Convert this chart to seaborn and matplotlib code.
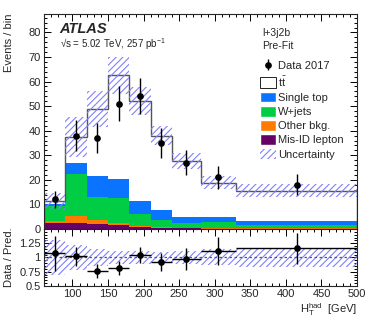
import numpy as np
import pandas as pd
import seaborn as sns
import matplotlib
matplotlib.use('Agg')
from matplotlib import pyplot as plt
from matplotlib.patches import Patch
from matplotlib.ticker import MultipleLocator, FixedLocator

# bin edges in H_T^had [GeV]
bin_edges = [60, 90, 120, 150, 180, 210, 240, 280, 330, 500]

# stacked predictions per bin
ttbar = [1.2, 10.3, 27.5, 42.3, 40.5, 30.2, 22.7, 14.1, 12.2]
single_top = [0.7, 4.7, 8.2, 7.5, 5.3, 4.0, 2.4, 1.9, 1.7]
wjets = [5.9, 16.9, 9.7, 10.1, 5.0, 3.1, 2.25, 2.65, 1.4]
other_bkg = [0.9, 3.0, 1.5, 1.0, 0.4, 0.3, 0.15, 0.1, 0.1]
misid = [2.5, 2.4, 2.0, 1.6, 0.8, 0.4, 0.2, 0.15, 0.1]

# relative uncertainty on the prediction
rel_unc = [0.31, 0.22, 0.15, 0.12, 0.11, 0.10, 0.12, 0.14, 0.17]

# data 2017
data = [12, 38, 37, 51, 54, 35, 27, 21, 18]

processes = ['ttbar', 'Single top', 'W+jets', 'Other bkg.', 'Mis-ID lepton']
colors = ['white', '#0a73ff', '#00cc44', '#ff7a00', '#660066']
hatch_col = '#8080ff'
hatch = '/////'

sns.set_style('ticks')
plt.rcParams['font.family'] = ['Liberation Sans', 'DejaVu Sans']
plt.rcParams['mathtext.fontset'] = 'custom'
plt.rcParams['mathtext.rm'] = 'Liberation Sans'
plt.rcParams['mathtext.it'] = 'Liberation Sans:italic'
plt.rcParams['mathtext.bf'] = 'Liberation Sans:bold'
plt.rcParams['hatch.linewidth'] = 0.8
plt.rcParams['hatch.color'] = hatch_col

edges = np.array(bin_edges)
centers = 0.5 * (edges[1:] + edges[:-1])
halfw = 0.5 * (edges[1:] - edges[:-1])

comps = [ttbar, single_top, wjets, other_bkg, misid]
total = np.sum(np.array(comps), axis=0)
unc = total * np.array(rel_unc)
data = np.array(data)

rows = []
for name, vals in zip(processes, comps):
    for c, v in zip(centers, vals):
        rows.append({'x': float(c), 'w': float(v), 'process': name})
df = pd.DataFrame(rows)

fig = plt.figure(figsize=(3.74, 3.18), dpi=100)
ax = fig.add_axes([0.1176, 0.280, 0.837, 0.676])
rax = fig.add_axes([0.1176, 0.1006, 0.837, 0.1794], sharex=ax)

sns.histplot(data=df, x='x', weights='w', hue='process', hue_order=processes,
             bins=bin_edges, multiple='stack', element='step', palette=colors,
             alpha=1, linewidth=0, legend=False, ax=ax)
ax.stairs(total, edges, color='#555555', lw=1.0)
ax.stairs(total + unc, edges, baseline=total - unc, fill=True, facecolor='none',
          edgecolor=hatch_col, hatch=hatch, lw=0)
dat = ax.errorbar(centers, data, yerr=np.sqrt(data), fmt='o', color='black',
                  ms=3.8, elinewidth=1.0, capsize=0)

# ratio panel
rax.stairs(1 + np.array(rel_unc), edges, baseline=1 - np.array(rel_unc), fill=True,
           facecolor='none', edgecolor=hatch_col, hatch=hatch, lw=0)
rax.axhline(1, color='#555577', ls=(0, (2, 2)), lw=0.9)
rax.errorbar(centers, data / total, yerr=np.sqrt(data) / total, xerr=halfw,
             fmt='o', color='black', ms=3.8, elinewidth=1.0, capsize=0)

ax.set_xlim(60, 500)
ax.set_ylim(0, 87.5)
rax.set_ylim(0.5, 1.5)

for a in (ax, rax):
    a.tick_params(which='both', direction='in', top=True, right=True, labelsize=8,
                  color='black', width=0.7, pad=2.5)
    a.tick_params(which='major', length=5)
    a.tick_params(which='minor', length=2.5)
    a.xaxis.set_major_locator(MultipleLocator(50))
    a.xaxis.set_minor_locator(MultipleLocator(10))
    for s in a.spines.values():
        s.set_linewidth(0.8)
ax.tick_params(labelbottom=False)
ax.yaxis.set_major_locator(MultipleLocator(10))
ax.yaxis.set_minor_locator(MultipleLocator(2))
rax.yaxis.set_major_locator(FixedLocator([0.5, 0.75, 1.0, 1.25]))
rax.yaxis.set_minor_locator(MultipleLocator(0.05))
rax.set_yticklabels(['0.5', '0.75', '1', '1.25'])

ax.set_xlabel('')
ax.set_ylabel('Events / bin', fontsize=8, loc='top')
ax.yaxis.set_label_coords(-0.095, 1.0)
rax.set_ylabel('Data / Pred.', fontsize=8)
rax.yaxis.set_label_coords(-0.095, 0.5)
rax.set_xlabel(r'H$_\mathregular{T}^\mathregular{had}$  [GeV]', fontsize=8, loc='right')
rax.xaxis.set_label_coords(1.0, -0.26)

ax.text(0.05, 0.91, 'ATLAS', transform=ax.transAxes, fontsize=10.5,
        fontweight='bold', fontstyle='italic')
ax.text(0.05, 0.84, '\u221As = 5.02 TeV, 257 pb$^\\mathregular{-1}$',
        transform=ax.transAxes, fontsize=7)
ax.text(0.697, 0.897, 'l+3j2b', transform=ax.transAxes, fontsize=7.5)
ax.text(0.697, 0.838, 'Pre-Fit', transform=ax.transAxes, fontsize=7.5)

handles = [dat,
           Patch(facecolor='white', edgecolor='black', lw=0.6),
           Patch(facecolor=colors[1]), Patch(facecolor=colors[2]),
           Patch(facecolor=colors[3]), Patch(facecolor=colors[4]),
           Patch(facecolor='none', edgecolor=hatch_col, hatch=hatch, lw=0)]
labels = ['Data 2017', r't$\mathregular{\bar{t}}$', 'Single top', 'W+jets',
          'Other bkg.', 'Mis-ID lepton', 'Uncertainty']
ax.legend(handles, labels, loc='upper left', bbox_to_anchor=(0.69, 0.785),
          frameon=False, fontsize=8, handlelength=1.4, handleheight=1.1,
          handletextpad=0.25, labelspacing=0.28, borderpad=0, borderaxespad=0)

fig.savefig('out.png', dpi=100)
